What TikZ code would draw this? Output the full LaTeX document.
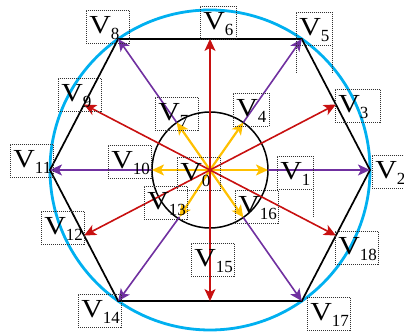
\documentclass[tikz,border=0pt]{standalone}
\usepackage{fontspec}
\setmainfont{Liberation Serif}
\usetikzlibrary{arrows.meta, calc}
\definecolor{ringcyan}{RGB}{0,176,240}
\definecolor{vecred}{RGB}{200,16,16}
\definecolor{vecpurple}{RGB}{112,48,160}
\definecolor{vecyellow}{RGB}{255,192,0}
\newcommand{\vlab}[1]{\scalebox{1.15}[1]{V}\lower6pt\hbox{\fontsize{17}{17}\selectfont #1}}
\tikzset{
  ring/.style={draw=ringcyan, line width=2.8pt},
  hexline/.style={draw=black, line width=1.7pt},
  innerring/.style={draw=black, line width=1.5pt},
  redvec/.style={-{Stealth[length=12pt, width=11pt, inset=3pt]}, draw=vecred, fill=vecred, line width=1.6pt},
  purplevec/.style={-{Stealth[length=12pt, width=11pt, inset=3pt]}, draw=vecpurple, fill=vecpurple, line width=1.6pt},
  yellowvec/.style={-{Stealth[length=12pt, width=11pt, inset=3pt]}, draw=vecyellow, fill=vecyellow, line width=2.2pt},
  boxline/.style={draw=black!80, dash pattern=on 1pt off 1pt, line width=0.7pt},
  vlabel/.style={boxline, anchor=north west, inner xsep=3pt, inner ysep=3pt, text width=37pt, align=left, text height=20pt, text depth=7pt, font=\fontsize{26}{26}\selectfont},
  narrow/.style={text width=30pt},
  wide/.style={text width=39pt},
}
\begin{document}
\begin{tikzpicture}[x=1pt, y=1pt]

  \useasboundingbox (-210,-166) rectangle (194,170);

  % ---- Centre and hexagon corners ----
  \coordinate (O) at (0,0);
  \coordinate (v2) at (0:160);
  \coordinate (v5) at (55:160);
  \coordinate (v8) at (125:160);
  \coordinate (v11) at (180:160);
  \coordinate (v14) at (235:160);
  \coordinate (v17) at (305:160);

  % ---- Edge midpoints ----
  \coordinate (v3) at ($(v2)!0.5!(v5)$);
  \coordinate (v6) at ($(v5)!0.5!(v8)$);
  \coordinate (v9) at ($(v8)!0.5!(v11)$);
  \coordinate (v12) at ($(v11)!0.5!(v14)$);
  \coordinate (v15) at ($(v14)!0.5!(v17)$);
  \coordinate (v18) at ($(v17)!0.5!(v2)$);

  % ---- Inner circle points ----
  \coordinate (v1) at (0:58);
  \coordinate (v4) at (55:58);
  \coordinate (v7) at (125:58);
  \coordinate (v10) at (180:58);
  \coordinate (v13) at (237:56);
  \coordinate (v16) at (305:58);

  % ---- Circles and hexagon ----
  \draw [ring] (O) circle (160);
  \draw [hexline] (v2) -- (v5) -- (v8) -- (v11) -- (v14) -- (v17) -- cycle;
  \draw [innerring] (O) circle (58);

  % ---- Small vectors ----
  \draw [yellowvec] (O) -- (v1);
  \draw [yellowvec] (O) -- (v4);
  \draw [yellowvec] (O) -- (v7);
  \draw [yellowvec] (O) -- (v10);
  \draw [yellowvec] (O) -- (v13);
  \draw [yellowvec] (O) -- (v16);

  % ---- Medium vectors ----
  \draw [redvec] (O) -- (v3);
  \draw [redvec] (O) -- (v6);
  \draw [redvec] (O) -- (v9);
  \draw [redvec] (O) -- (v12);
  \draw [redvec] (O) -- (v15);
  \draw [redvec] (O) -- (v18);

  % ---- Large vectors ----
  \draw [purplevec] (v1) -- (v2);
  \draw [purplevec] (v4) -- (v5);
  \draw [purplevec] (v7) -- (v8);
  \draw [purplevec] (v10) -- (v11);
  \draw [purplevec] (v13) -- (v14);
  \draw [purplevec] (v16) -- (v17);

  % ---- Labels ----
  \node (l0) [vlabel] at (-33,13) {\vlab{0}};
  \node (l1) [vlabel, narrow] at (67,14) {\vlab{1}};
  \node (l2) [vlabel] at (162,15) {\vlab{2}};
  \node (l3) [vlabel, wide] at (125,81) {\vlab{3}};
  \node (l4) [vlabel, narrow] at (23,77) {\vlab{4}};
  \node (l5) [vlabel, narrow] at (86,158) {\vlab{5}};
  \node (l6) [vlabel, narrow] at (-10,164) {\vlab{6}};
  \node (l7) [vlabel] at (-55,73) {\vlab{7}};
  \node (l8) [vlabel] at (-124,160) {\vlab{8}};
  \node (l9) [vlabel] at (-152,92) {\vlab{9}};
  \node (l10) [vlabel] at (-102,25) {\vlab{10}};
  \node (l11) [vlabel] at (-200,26) {\vlab{11}};
  \node (l12) [vlabel] at (-169,-41) {\vlab{12}};
  \node (l13) [vlabel] at (-66,-16) {\vlab{13}};
  \node (l14) [vlabel] at (-132,-124) {\vlab{14}};
  \node (l15) [vlabel] at (-19,-73) {\vlab{15}};
  \node (l16) [vlabel] at (25,-20) {\vlab{16}};
  \node (l17) [vlabel] at (97,-127) {\vlab{17}};
  \node (l18) [vlabel] at (125,-61) {\vlab{18}};

  % stray box edges
  \draw [boxline] (l5.south west) -- ++(0,-28);
  \draw [boxline] (l5.south east) -- ++(0,-28);
  \draw [boxline] (l1.south east) -- ++(0,-27);

\end{tikzpicture}
\end{document}
